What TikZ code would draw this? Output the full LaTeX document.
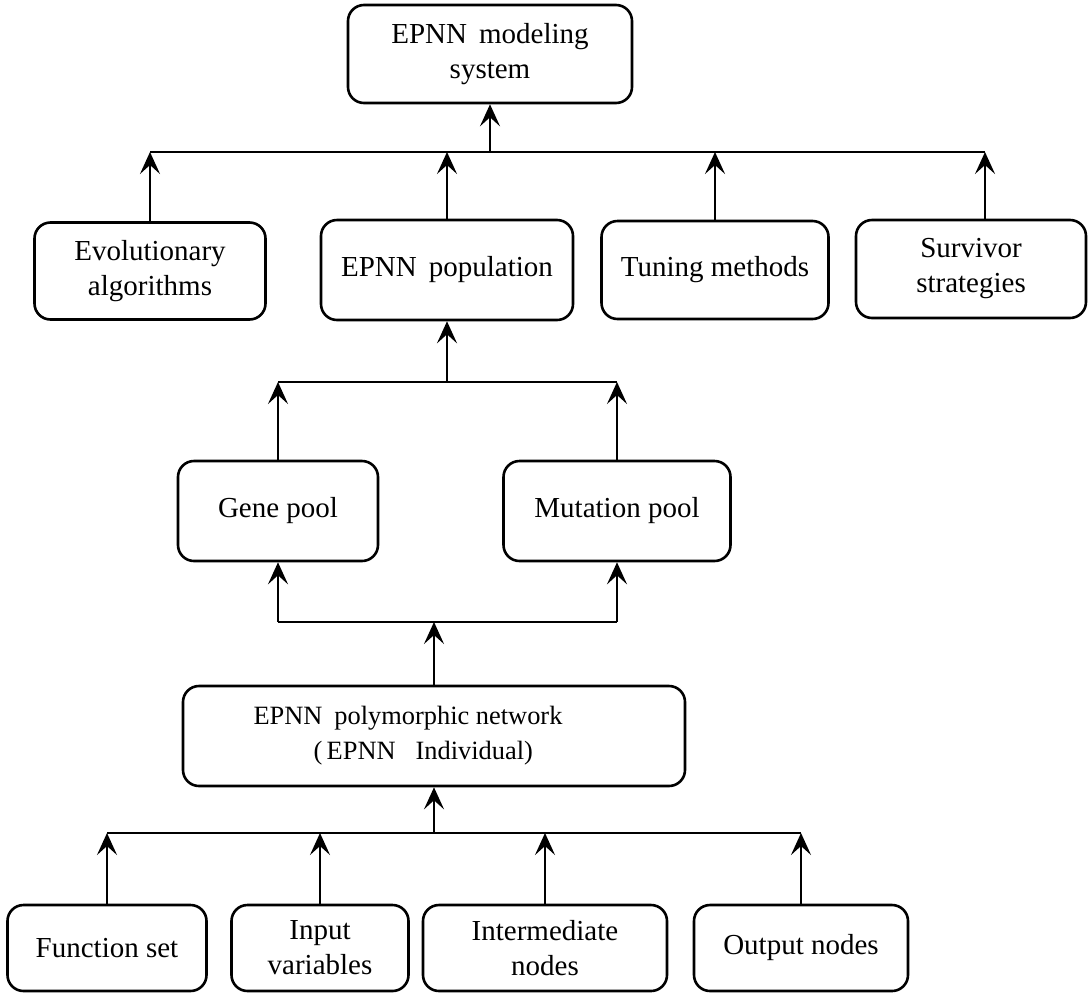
\documentclass[tikz,border=0pt]{standalone}
\usepackage{fontspec}
\setmainfont{Liberation Serif}
\usetikzlibrary{arrows.meta}
\newcommand{\wgap}[1]{\hspace{#1}}
\tikzset{
  blk/.style={draw, line width=1.3pt, rounded corners=8pt, align=center,
    inner sep=0pt, font=\fontsize{14.5}{17.5}\selectfont},
  link/.style={line width=1.3pt},
  riser/.style={line width=1.3pt,
    arrows={-Stealth[length=11pt, width=10pt, inset=4.5pt]}}
}
\begin{document}
\begin{tikzpicture}[x=0.5pt,y=-0.5pt]
\useasboundingbox (0,0) rectangle (1091,996);

% boxes
\node[blk, minimum width=142pt, minimum height=49pt] (sys) at (490,54)
  {EPNN\wgap{6pt}modeling\\system};
\node[blk, minimum width=115.5pt, minimum height=48.5pt] (evo) at (150,271)
  {Evolutionary\\algorithms};
\node[blk, minimum width=126pt, minimum height=50pt] (pop) at (447,270)
  {EPNN\wgap{6pt}population};
\node[blk, minimum width=113.5pt, minimum height=49pt] (tun) at (715,270)
  {Tuning methods};
\node[blk, minimum width=115pt, minimum height=49pt] (sur) at (971,269)
  {Survivor\\strategies};
\node[blk, minimum width=100pt, minimum height=50pt] (gene) at (278,511)
  {Gene pool};
\node[blk, minimum width=113.5pt, minimum height=50pt] (mut) at (617,511)
  {Mutation pool};
\node[blk, minimum width=251pt, minimum height=50pt, align=left,
      font=\fontsize{13.2}{17.5}\selectfont] (poly) at (434,736)
  {EPNN\wgap{6pt}polymorphic network\rule{26pt}{0pt}\\
   \hspace*{30pt}(\,EPNN\wgap{10pt}Individual)};
\node[blk, minimum width=99.5pt, minimum height=43pt] (fs) at (107,948)
  {Function set};
\node[blk, minimum width=88.5pt, minimum height=43pt] (iv) at (320,948)
  {Input\\variables};
\node[blk, minimum width=122pt, minimum height=43pt] (inm) at (545,948)
  {Intermediate\\nodes};
\node[blk, minimum width=107pt, minimum height=43pt] (outn) at (801,948)
  {Output nodes};

% bus ends
\coordinate (b1w) at (150,152);
\coordinate (b1e) at (985,152);
\coordinate (b2w) at (278,382);
\coordinate (b2e) at (617,382);
\coordinate (b3w) at (278,622);
\coordinate (b3e) at (617,622);
\coordinate (b4w) at (107,833);
\coordinate (b4e) at (801,833);

% top level
\draw[link] (b1w) -- (b1e);
\draw[riser] (sys.south |- b1w) -- (sys.south);
\draw[riser] (evo.north) -- (b1w);
\draw[riser] (pop.north) -- (pop.north |- b1w);
\draw[riser] (tun.north) -- (tun.north |- b1w);
\draw[riser] (sur.north -| b1e) -- (b1e);

% pools into the population
\draw[link] (b2w) -- (b2e);
\draw[riser] (pop.south |- b2w) -- (pop.south);
\draw[riser] (gene.north) -- (b2w);
\draw[riser] (mut.north) -- (b2e);

% network into the pools
\draw[link] (b3w) -- (b3e);
\draw[riser] (b3w) -- (gene.south);
\draw[riser] (b3e) -- (mut.south);
\draw[riser] (poly.north) -- (poly.north |- b3w);

% components into the network
\draw[link] (b4w) -- (b4e);
\draw[riser] (poly.south |- b4w) -- (poly.south);
\draw[riser] (fs.north) -- (b4w);
\draw[riser] (iv.north) -- (iv.north |- b4w);
\draw[riser] (inm.north) -- (inm.north |- b4w);
\draw[riser] (outn.north) -- (b4e);
\end{tikzpicture}
\end{document}
